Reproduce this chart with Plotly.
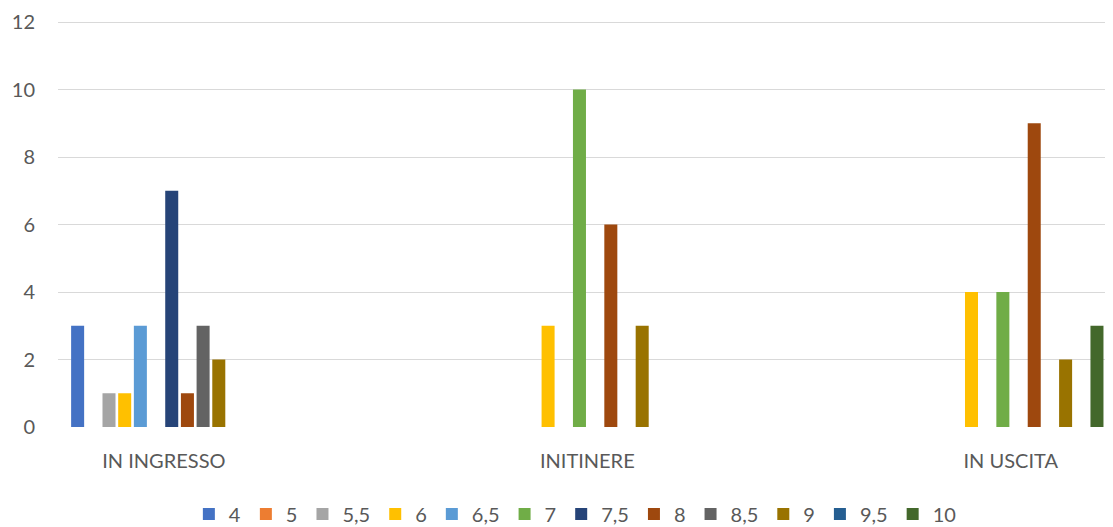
import plotly.graph_objects as go

categories = ["IN INGRESSO", "INITINERE", "IN USCITA"]
series_names = ["4", "5", "5,5", "6", "6,5", "7", "7,5", "8", "8,5", "9", "9,5", "10"]
values = {
    "4":   [3, 0, 0],
    "5":   [0, 0, 0],
    "5,5": [1, 0, 0],
    "6":   [1, 3, 4],
    "6,5": [3, 0, 0],
    "7":   [0, 10, 4],
    "7,5": [7, 0, 0],
    "8":   [1, 6, 9],
    "8,5": [3, 0, 0],
    "9":   [2, 3, 2],
    "9,5": [0, 0, 0],
    "10":  [0, 0, 3],
}
colors = ["#4472C4", "#ED7D31", "#A5A5A5", "#FFC000", "#5B9BD5", "#70AD47",
          "#264478", "#9E480E", "#636363", "#997300", "#255E91", "#43682B"]
y_ticks = [0, 2, 4, 6, 8, 10, 12]

FONT = "Lato"
TXT = "#595959"

fig = go.Figure()
for name, col in zip(series_names, colors):
    fig.add_trace(go.Bar(
        x=categories, y=values[name], name=name,
        marker=dict(color=col, line=dict(width=0)),
    ))

fig.update_layout(
    width=1105, height=519,
    margin=dict(l=50, r=0, t=12, b=100, autoexpand=False),
    paper_bgcolor="white", plot_bgcolor="white",
    barmode="group", bargap=0.5555, bargroupgap=0.17,
    font=dict(family=FONT, size=20, color=TXT),
    showlegend=True,
    legend=dict(
        orientation="h", xref="container", yref="container",
        x=0.513, xanchor="center", y=0.025, yanchor="middle",
        font=dict(family=FONT, size=20, color=TXT),
        itemwidth=30, tracegroupgap=0, traceorder="normal",
    ),
)
fig.update_xaxes(
    type="category", range=[-0.2501, 2.2416],
    showgrid=False, showline=False, zeroline=False,
    ticks="", ticklabelstandoff=20, automargin=False,
    tickfont=dict(family=FONT, size=20, color=TXT),
)
fig.update_yaxes(
    range=[0, 12.06], tickvals=y_ticks,
    showgrid=True, gridcolor="#D9D9D9", gridwidth=1.3,
    zeroline=False, showline=False, ticks="",
    ticklabelstandoff=22, automargin=False,
    tickfont=dict(family=FONT, size=20, color=TXT),
)

fig.write_html("out.html")
